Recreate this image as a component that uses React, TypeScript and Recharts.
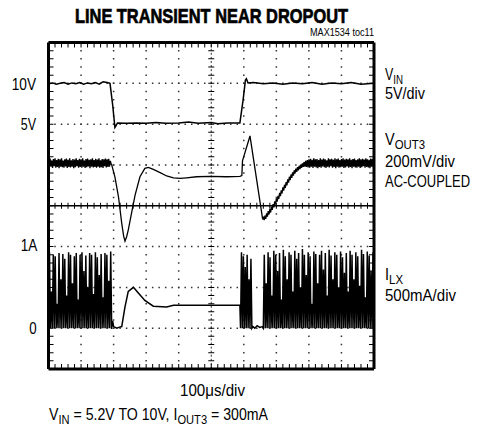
import React from 'react';
import { LineChart, Line, XAxis, YAxis, ReferenceLine } from 'recharts';

// ---------- data (time in μs, 100 μs/div) ----------
const TIME_GRID = [100, 200, 300, 400, 600, 700, 800, 900];
const DIV_GRID = [1, 2, 3, 5, 6, 7];

// V_IN trace (V)
const VIN_POINTS: [number, number][] = [
  [0, 9.95], [12, 10.05], [24, 9.9], [36, 10.0], [48, 10.1], [60, 9.9], [72, 10.05], [84, 9.95],
  [96, 10.1], [108, 9.9], [120, 10.05], [132, 9.95], [144, 10.1], [156, 9.9], [168, 10.2], [180, 10.1],
  [189, 10.0], [197, 7.4], [204, 4.6], [207, 4.8], [212, 5.15], [240, 5.1], [270, 5.15], [300, 5.1],
  [330, 5.2], [360, 5.1], [400, 5.15], [430, 5.25], [460, 5.1], [500, 5.2], [520, 5.05], [550, 5.15],
  [588, 5.15], [598, 8.0], [605, 10.4], [608, 10.55], [613, 10.05], [630, 10.1], [660, 9.95], [690, 10.05],
  [720, 9.9], [750, 10.05], [780, 9.95], [810, 10.1], [840, 9.9], [870, 10.05], [900, 9.95], [930, 10.1],
  [960, 9.9], [1000, 10.0],
];

// V_OUT3 trace (mV, AC-coupled), sampled every 2.5 μs in the noisy parts
const VOUT_STEP = 2.5;
const VOUT_NOISE_BEFORE_T = 0;
const VOUT_NOISE_BEFORE = [
  26, -12, 31, -9, 22, -15, 29, -6, 33, -13, 24, -10, 30, -16, 27, -8, 32, -11, 21, -14,
  28, -7, 31, -15, 25, -10, 33, -12, 23, -9, 29, -16, 26, -11, 32, -6, 24, -14, 30, -10,
  27, -13, 33, -8, 22, -15, 29, -11, 31, -7, 25, -16, 28, -9, 32, -12, 24, -10, 30, -14,
  26, -8, 33, -13, 23, -11, 29, -15, 27, -6, 31, -12, 28, -10, 30, -9, 20, 4,
];
const VOUT_TRANSIENT: [number, number][] = [
  [194, 2], [204, -58], [215, -156], [225, -286], [231, -350], [235, -373], [240, -352], [245, -319],
  [256, -229], [266, -148], [281, -58], [296, -17], [307, -12], [322, -22], [343, -38], [363, -54],
  [384, -63], [404, -66], [424, -63], [455, -58], [496, -56], [547, -58], [588, -56], [594, -52],
  [596, 20], [619, 142], [658, -267],
];
const VOUT_RECOVERY_T = 660;
const VOUT_RECOVERY = [
  -254, -270, -248, -264, -237, -253, -226, -243, -217, -233, -204, -220, -192, -208, -178, -194,
  -164, -180, -151, -167, -137, -153, -124, -140, -110, -126, -97, -113, -84, -100, -71, -87,
  -58, -74, -47, -63, -36, -52, -26, -42, -18, -34, -11, -27, -4, -20, 2, -14, 8, -10,
  14, -8, 20, -10, 24, -12, 28,
];
const VOUT_NOISE_AFTER_T = 802.5;
const VOUT_NOISE_AFTER = [
  -14, 30, -9, 25, -15, 32, -8, 27, -12, 29, -16, 24, -10, 33, -13, 26, -7, 31, -11, 28,
  -15, 23, -9, 32, -12, 27, -6, 30, -14, 25, -10, 33, -16, 28, -8, 31, -13, 24, -11, 29,
  -9, 32, -15, 26, -12, 30, -7, 27, -14, 33, -10, 25, -16, 29, -8, 31, -12, 24, -13, 28,
  -9, 32, -15, 27, -11, 30, -6, 26, -14, 33, -10, 28, -12, 25, -16, 31, -8, 29, -11, 27,
];

// I_LX trace (A) – switching bursts: peak of each pulse, valleys at 0 A
const ILX_VALLEY = 0;
const ILX_BURST1_T = 0;
const ILX_BURST1_STEP = 2.94;
const ILX_BURST1_PEAKS = [
  0.93, 0.45, 0.9, 0.88, 0.3, 0.92, 0.6, 0.91, 0.85, 0.4, 0.93, 0.9, 0.55, 0.88, 0.92, 0.35, 0.9,
  0.93, 0.7, 0.89, 0.5, 0.92, 0.9, 0.42, 0.93, 0.87, 0.65, 0.91, 0.38, 0.92, 0.9, 0.58, 0.94,
];
const ILX_LINEAR: [number, number][] = [
  [194, 0], [197, 0.09], [200, 0.02], [210, 0], [216, 0.01], [225, 0.02], [235, 0.26], [245, 0.45],
  [261, 0.5], [276, 0.43], [296, 0.34], [322, 0.27], [363, 0.26], [384, 0.28], [486, 0.28], [588, 0.28],
];
const ILX_BURST2_T = 590;
const ILX_BURST2_STEP = 2.9;
const ILX_BURST2_PEAKS = [0.93, 0.88, 0.75, 0.9, 0.6, 0.85];
const ILX_GAP: [number, number][] = [[628, 0.02], [634, 0], [641, 0.03], [649, 0.01], [657, 0.02]];
const ILX_BURST3_T = 660;
const ILX_BURST3_STEP = 2.93;
const ILX_BURST3_PEAKS = [
  0.9, 0.55, 0.93, 0.87, 0.4, 0.95, 0.9, 0.7, 0.92, 0.35, 0.96, 0.88, 0.6, 0.93, 0.9, 0.45,
  0.95, 0.85, 0.92, 0.5, 0.97, 0.9, 0.65, 0.93, 0.88, 0.3, 0.94, 0.91, 0.55, 0.9, 0.95, 0.72,
  0.92, 0.4, 0.96, 0.89, 0.6, 0.93, 0.9, 0.5, 0.94, 0.87, 0.68, 0.92, 0.45, 0.95, 0.9, 0.6,
  0.93, 0.88, 0.52, 0.96, 0.91, 0.38, 0.94, 0.89, 0.7, 0.93,
];

// ---------- build series ----------
type P = { t: number; v: number };
const pairs = (a: [number, number][]): P[] => a.map(([t, v]) => ({ t, v }));
const sampled = (t0: number, dt: number, vals: number[]): P[] => vals.map((v, i) => ({ t: t0 + i * dt, v }));
const burst = (t0: number, dt: number, peaks: number[]): P[] => {
  const out: P[] = [];
  peaks.forEach((p, i) => {
    out.push({ t: t0 + 2 * i * dt, v: ILX_VALLEY });
    out.push({ t: t0 + (2 * i + 1) * dt, v: p });
  });
  out.push({ t: t0 + 2 * peaks.length * dt, v: ILX_VALLEY });
  return out;
};

const VIN_DATA = pairs(VIN_POINTS);
const VOUT_DATA = [
  ...sampled(VOUT_NOISE_BEFORE_T, VOUT_STEP, VOUT_NOISE_BEFORE),
  ...pairs(VOUT_TRANSIENT),
  ...sampled(VOUT_RECOVERY_T, VOUT_STEP, VOUT_RECOVERY),
  ...sampled(VOUT_NOISE_AFTER_T, VOUT_STEP, VOUT_NOISE_AFTER),
].filter((p) => p.t <= 1000);
const ILX_DATA = [
  ...burst(ILX_BURST1_T, ILX_BURST1_STEP, ILX_BURST1_PEAKS),
  ...pairs(ILX_LINEAR),
  ...burst(ILX_BURST2_T, ILX_BURST2_STEP, ILX_BURST2_PEAKS),
  ...pairs(ILX_GAP),
  ...burst(ILX_BURST3_T, ILX_BURST3_STEP, ILX_BURST3_PEAKS),
].filter((p) => p.t <= 1000);

const FONT = "'Liberation Sans', Arial, sans-serif";

const Sub = ({ children }: { children: React.ReactNode }) => (
  <tspan fontSize={13} dy={4}>{children}</tspan>
);

type LabelProps = { x: number; y: number; w: number; anchor?: 'start' | 'middle' | 'end'; size?: number; bold?: boolean; children: React.ReactNode };
const Label = ({ x, y, w, anchor = 'start', size = 16.5, bold = false, children }: LabelProps) => (
  <text
    x={x}
    y={y}
    textAnchor={anchor}
    fontSize={size}
    fontWeight={bold ? 'bold' : 'normal'}
    textLength={w}
    lengthAdjust="spacingAndGlyphs"
    stroke={bold ? '#000' : 'none'}
    strokeWidth={bold ? 0.7 : 0}
  >
    {children}
  </text>
);

export default function App() {
  const dotH = '1.5 5.01';
  const dotV = '1.5 6.6625';
  return (
    <div style={{ position: 'absolute', left: 0, top: 0, width: 482, height: 427, background: '#fff' }}>
      <LineChart width={482} height={427} margin={{ top: 42.5, left: 48.5, right: 108, bottom: 58 }}>
        <XAxis dataKey="t" type="number" domain={[0, 1000]} hide allowDataOverflow />
        <YAxis yAxisId="div" type="number" domain={[0, 8]} hide allowDataOverflow />
        <YAxis yAxisId="vin" type="number" domain={[-25, 15]} hide allowDataOverflow />
        <YAxis yAxisId="vout" type="number" domain={[-1000, 600]} hide allowDataOverflow />
        <YAxis yAxisId="ilx" type="number" domain={[-0.5, 3.5]} hide allowDataOverflow />

        {TIME_GRID.map((t) => (
          <ReferenceLine key={'vx' + t} x={t} yAxisId="div" stroke="#333" strokeWidth={1.5} strokeDasharray={dotV} strokeDashoffset={0.75} />
        ))}
        {DIV_GRID.map((d) => (
          <ReferenceLine key={'hy' + d} y={d} yAxisId="div" stroke="#333" strokeWidth={1.5} strokeDasharray={dotH} strokeDashoffset={0.75} />
        ))}
        {/* centre graticule */}
        <ReferenceLine y={4} yAxisId="div" stroke="#000" strokeWidth={1.3} />
        <ReferenceLine y={4} yAxisId="div" stroke="#000" strokeWidth={6} strokeDasharray="1 5.51" strokeDashoffset={0.5} />
        <ReferenceLine x={500} yAxisId="div" stroke="#333" strokeWidth={1} strokeDasharray="2 2.08" />
        <ReferenceLine x={500} yAxisId="div" stroke="#000" strokeWidth={6} strokeDasharray="1 7.1625" strokeDashoffset={0.5} />
        {/* edge ticks */}
        <ReferenceLine y={7.939} yAxisId="div" stroke="#000" strokeWidth={5} strokeDasharray="1 5.51" strokeDashoffset={0.5} />
        <ReferenceLine y={0.061} yAxisId="div" stroke="#000" strokeWidth={5} strokeDasharray="1 5.51" strokeDashoffset={0.5} />
        <ReferenceLine x={7.7} yAxisId="div" stroke="#000" strokeWidth={5} strokeDasharray="1 7.1625" strokeDashoffset={0.5} />
        <ReferenceLine x={992.3} yAxisId="div" stroke="#000" strokeWidth={5} strokeDasharray="1 7.1625" strokeDashoffset={0.5} />

        <Line data={VIN_DATA} dataKey="v" yAxisId="vin" type="linear" stroke="#000" strokeWidth={1.5} dot={false} isAnimationActive={false} />
        <Line data={VOUT_DATA} dataKey="v" yAxisId="vout" type="linear" stroke="#000" strokeWidth={1.3} dot={false} isAnimationActive={false} />
        <Line data={ILX_DATA} dataKey="v" yAxisId="ilx" type="linear" stroke="#000" strokeWidth={1.5} dot={false} isAnimationActive={false} />

        {/* frame */}
        <ReferenceLine x={0} yAxisId="div" stroke="#000" strokeWidth={3} />
        <ReferenceLine x={1000} yAxisId="div" stroke="#000" strokeWidth={3} />
        <ReferenceLine y={0} yAxisId="div" stroke="#000" strokeWidth={3} />
        <ReferenceLine y={8} yAxisId="div" stroke="#000" strokeWidth={3} />
      </LineChart>

      <svg width={482} height={427} style={{ position: 'absolute', left: 0, top: 0, pointerEvents: 'none' }}>
        <g fontFamily={FONT} fill="#000">
          <Label x={75} y={23} w={273} size={20.5} bold>LINE TRANSIENT NEAR DROPOUT</Label>
          <Label x={310} y={36} w={64} size={10}>MAX1534 toc11</Label>

          <Label x={11.7} y={89.5} w={24.3}>10V</Label>
          <Label x={20.7} y={130} w={15.3}>5V</Label>
          <Label x={20.7} y={250.7} w={16.6}>1A</Label>
          <Label x={29.3} y={334} w={7.4}>0</Label>

          <Label x={385} y={80} w={18}>V<Sub>IN</Sub></Label>
          <Label x={385} y={99} w={40}>5V/div</Label>
          <Label x={385} y={145} w={40}>V<Sub>OUT3</Sub></Label>
          <Label x={385} y={166.5} w={70}>200mV/div</Label>
          <Label x={385} y={186.5} w={85}>AC-COUPLED</Label>
          <Label x={385} y={279.5} w={18}>I<Sub>LX</Sub></Label>
          <Label x={385} y={300.5} w={71}>500mA/div</Label>

          <Label x={180} y={395.5} w={65}>100μs/div</Label>
          <Label x={49} y={420} w={219}>
            V<Sub>IN</Sub><tspan dy={-4}> = 5.2V TO 10V, I</tspan><Sub>OUT3</Sub><tspan dy={-4}> = 300mA</tspan>
          </Label>
        </g>
      </svg>
    </div>
  );
}
